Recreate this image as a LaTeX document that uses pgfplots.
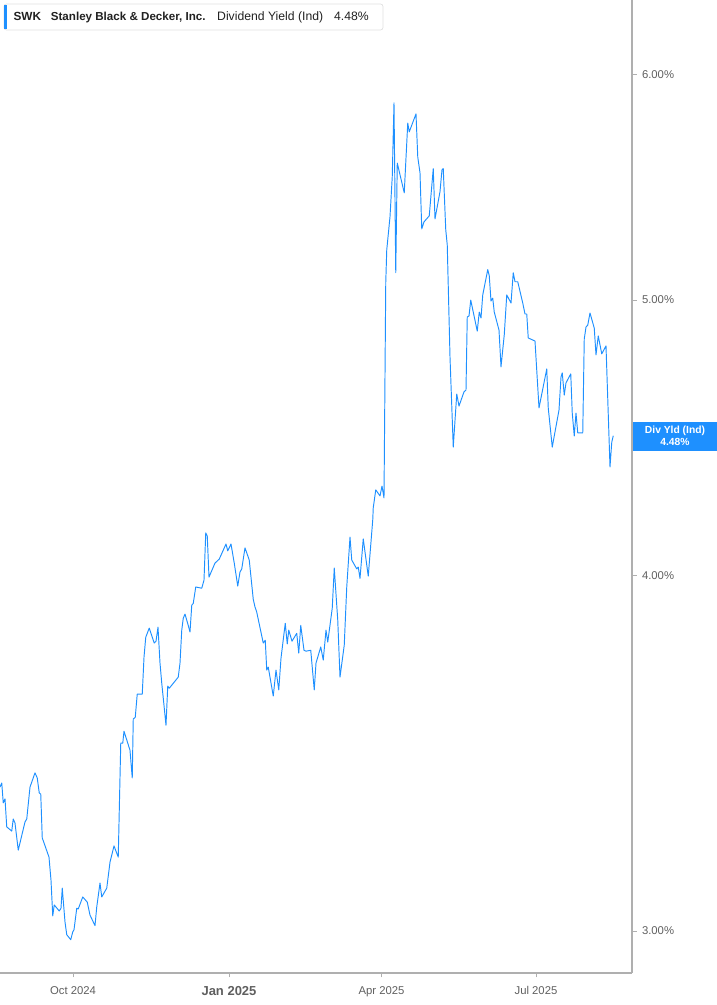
\documentclass[border=0pt]{standalone}
\usepackage{pgfplots}
\pgfplotsset{compat=1.18}
\usepackage{fontspec}
\setmainfont{Liberation Sans}
\definecolor{lineblue}{RGB}{30,144,255}
\definecolor{tagblue}{RGB}{30,144,255}
\definecolor{axgray}{RGB}{175,175,175}
\definecolor{labgray}{RGB}{95,95,95}
\definecolor{txt}{RGB}{34,34,34}
\definecolor{boxgray}{RGB}{225,225,225}
\begin{document}
\begin{tikzpicture}[x=1pt,y=1pt]
\path[use as bounding box] (0,0) rectangle (717,1005);
\begin{axis}[
  at={(0pt,32pt)}, anchor=south west,
  scale only axis, width=632pt, height=973pt,
  xmin=-28, xmax=224.8,
  ymode=log, ymin=2.8998, ymax=6.3757,
  axis x line*=bottom, axis y line*=right,
  axis line style={axgray, line width=1.3pt},
  xtick={1.2,63.6,124.6,186.4},
  xticklabels={Oct 2024,{\fontsize{13}{15}\selectfont\bfseries Jan 2025},Apr 2025,Jul 2025},
  ytick={3,4,5,6}, yticklabels={3.00\%,4.00\%,5.00\%,6.00\%},
  minor y tick num=0, minor ytick={},
  tick align=outside, major tick length=4.5pt,
  tick style={axgray, line width=0.9pt},
  xticklabel style={font=\fontsize{11.3}{13}\selectfont, text=labgray, yshift=-5.5pt},
  yticklabel style={font=\fontsize{11.3}{13}\selectfont, text=labgray, xshift=2pt},
  clip=false,
]
\addplot[lineblue, line width=0.95pt, line join=round] coordinates {
(-28.0,3.371) (-27.3,3.382) (-26.7,3.328) (-26.0,3.339) (-25.3,3.264) (-23.3,3.253) (-22.7,3.285) (-22.0,3.274) (-20.7,3.203) (-18.0,3.277) (-17.3,3.285) (-16.0,3.371) (-14.0,3.410) (-13.1,3.396) (-12.3,3.355) (-11.7,3.352) (-11.1,3.235) (-8.4,3.185) (-7.6,3.126) (-6.9,3.037) (-6.3,3.064) (-4.3,3.049) (-3.6,3.056) (-3.1,3.106) (-2.0,3.022) (-1.3,2.991) (0.3,2.979) (1.1,2.998) (1.6,3.003) (2.7,3.056) (3.3,3.054) (5.1,3.084) (6.9,3.071) (8.0,3.039) (10.0,3.013) (10.7,3.059) (12.0,3.119) (12.7,3.084) (14.7,3.106) (16.0,3.172) (17.6,3.214) (19.3,3.185) (20.3,3.493) (21.1,3.493) (21.6,3.527) (24.0,3.473) (24.9,3.396) (25.3,3.562) (26.1,3.567) (26.9,3.635) (28.9,3.635) (29.6,3.745) (30.3,3.806) (31.7,3.834) (33.7,3.788) (34.4,3.794) (35.2,3.837) (36.0,3.727) (36.7,3.667) (38.4,3.544) (39.1,3.658) (39.7,3.652) (43.3,3.685) (44.0,3.727) (44.7,3.828) (45.3,3.865) (46.0,3.878) (47.3,3.843) (48.0,3.822) (48.7,3.906) (49.3,3.912) (50.3,3.964) (52.7,3.960) (53.6,3.986) (54.3,4.141) (54.9,4.131) (55.6,3.996) (58.0,4.041) (58.9,4.048) (59.7,4.054) (62.4,4.104) (63.1,4.081) (64.4,4.104) (65.7,4.041) (67.1,3.967) (68.0,4.012) (68.7,4.022) (70.0,4.091) (71.7,4.051) (73.3,3.925) (74.0,3.900) (74.7,3.884) (77.3,3.788) (78.1,3.797) (78.7,3.706) (79.3,3.715) (81.3,3.629) (82.4,3.706) (83.5,3.647) (84.4,3.742) (86.1,3.849) (86.9,3.785) (87.5,3.828) (88.8,3.794) (90.7,3.818) (91.5,3.757) (92.3,3.843) (93.6,3.766) (94.4,3.763) (96.3,3.766) (97.7,3.647) (98.4,3.727) (100.3,3.776) (101.3,3.736) (102.4,3.828) (103.1,3.791) (104.9,3.897) (105.7,4.025) (107.1,3.859) (108.0,3.685) (109.7,3.782) (110.7,3.964) (112.0,4.127) (112.7,4.051) (114.7,4.022) (115.3,4.028) (116.0,3.992) (117.3,4.121) (119.3,3.999) (121.1,4.185) (121.3,4.226) (122.3,4.288) (124.0,4.267) (124.8,4.301) (125.6,4.260) (126.3,5.071) (126.7,5.208) (128.0,5.349) (128.9,5.525) (129.6,5.866) (130.3,5.112) (130.9,5.587) (133.7,5.454) (135.1,5.771) (135.7,5.730) (138.4,5.814) (139.1,5.615) (140.0,5.543) (140.7,5.297) (141.6,5.327) (143.7,5.353) (145.3,5.562) (146.0,5.340) (148.0,5.459) (148.8,5.557) (149.3,5.562) (150.3,5.293) (150.9,5.229) (152.0,4.775) (153.3,4.439) (154.7,4.634) (155.6,4.589) (157.6,4.642) (158.4,4.649) (158.9,4.932) (159.6,4.936) (160.3,5.000) (162.9,4.876) (163.7,4.952) (164.4,4.928) (165.1,5.021) (167.1,5.125) (167.7,5.100) (168.4,4.996) (169.1,5.008) (169.7,4.952) (171.6,4.880) (172.4,4.737) (173.7,4.861) (174.7,5.021) (176.4,4.988) (177.3,5.112) (178.0,5.075) (179.1,5.075) (181.1,4.988) (182.0,4.944) (182.7,4.944) (183.3,4.849) (186.0,4.837) (187.6,4.582) (190.7,4.729) (191.3,4.582) (192.9,4.439) (194.0,4.494) (195.6,4.574) (196.4,4.698) (196.9,4.714) (197.7,4.630) (198.4,4.676) (200.3,4.710) (200.9,4.563) (201.7,4.479) (202.4,4.563) (203.1,4.490) (205.1,4.490) (205.7,4.845) (206.4,4.892) (207.1,4.900) (208.0,4.948) (209.7,4.888) (210.4,4.783) (211.3,4.857) (212.7,4.787) (214.4,4.818) (216.0,4.368) (216.7,4.456) (217.3,4.480)
};
\end{axis}
% header box
\draw[rounded corners=2.5pt, draw=boxgray, fill=white, line width=0.7pt] (4,975) rectangle (383,1001);
\fill[lineblue] (4,975.6) rectangle (7,1000.4);
\node[anchor=base west, inner sep=0, font=\bfseries\fontsize{11.8}{14}\selectfont, text=txt] at (13.3,984.3) {SWK};
\node[anchor=base west, inner sep=0, font=\bfseries\fontsize{11.6}{14}\selectfont, text=txt] at (50.7,984.3) {Stanley Black \& Decker, Inc.};
\node[anchor=base west, inner sep=0, font=\fontsize{12.2}{14}\selectfont, text=txt] at (217,984.3) {Dividend Yield (Ind)};
\node[anchor=base west, inner sep=0, font=\fontsize{12.2}{14}\selectfont, text=txt] at (334,984.3) {4.48\%};
% value tag
\fill[tagblue] (632.7,554.3) rectangle (717,583.3);
\node[anchor=base, inner sep=0, font=\bfseries\fontsize{10.3}{12}\selectfont, text=white] at (675,571.2) {Div Yld (Ind)};
\node[anchor=base, inner sep=0, font=\bfseries\fontsize{10.3}{12}\selectfont, text=white] at (675,559.6) {4.48\%};
\end{tikzpicture}
\end{document}
